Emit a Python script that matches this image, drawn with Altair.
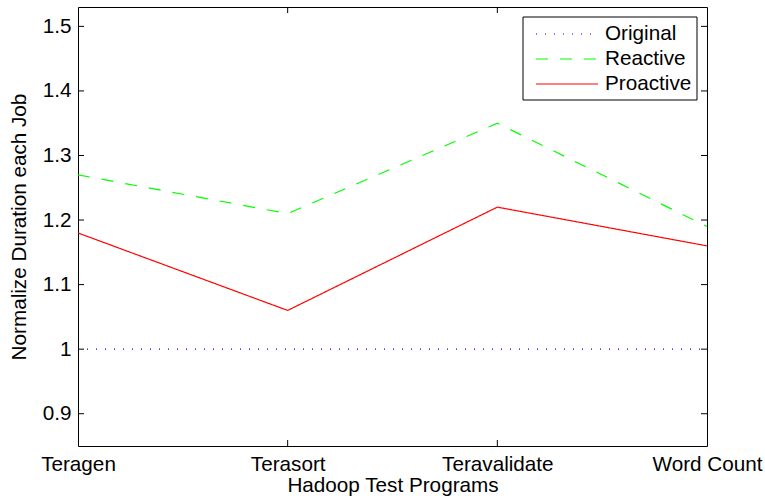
import altair as alt
import pandas as pd

# Hadoop test programs and normalized job durations per scheduling strategy
programs = ["Teragen", "Terasort", "Teravalidate", "Word Count"]
original = [1.0, 1.0, 1.0, 1.0]
reactive = [1.27, 1.21, 1.35, 1.19]
proactive = [1.18, 1.06, 1.22, 1.16]

series_names = ["Original", "Reactive", "Proactive"]
series_colors = ["#0000ff", "#00ff00", "#ff0000"]
series_dash = [[1, 8], [12, 12], [1, 0]]

y_ticks = [0.9, 1.0, 1.1, 1.2, 1.3, 1.4, 1.5]
y_domain = [0.85, 1.53]

W, H = 629, 439
FONT = "Liberation Sans"
FS = 20.7

rows = []
for name, vals in zip(series_names, [original, reactive, proactive]):
    for i, (p, v) in enumerate(zip(programs, vals)):
        rows.append({"series": name, "idx": i, "program": p, "value": v})
df = pd.DataFrame(rows)

label_expr = "[" + ",".join(f"'{p}'" for p in programs) + "][datum.value]"

x_enc = alt.X(
    "idx:Q",
    scale=alt.Scale(domain=[0, len(programs) - 1], nice=False, zero=False),
    axis=alt.Axis(
        values=list(range(len(programs))),
        labelExpr=label_expr,
        labelFlush=False,
        labelOverlap=False,
        title="Hadoop Test Programs",
        tickSize=0,
        domain=False,
        grid=False,
        labelPadding=8,
        titlePadding=2,
    ),
)
y_enc = alt.Y(
    "value:Q",
    scale=alt.Scale(domain=y_domain, nice=False, zero=False),
    axis=alt.Axis(
        values=y_ticks,
        labelExpr="datum.value == 1 ? '1' : format(datum.value, '.1f')",
        labelFlush=False,
        title="Normalize Duration each Job",
        tickSize=0,
        domain=False,
        grid=False,
        labelPadding=7,
        titlePadding=13,
    ),
)

lines = alt.Chart(df).mark_line(strokeWidth=1.2, clip=True).encode(
    x=x_enc,
    y=y_enc,
    color=alt.Color("series:N", scale=alt.Scale(domain=series_names, range=series_colors), legend=None),
    strokeDash=alt.StrokeDash("series:N", scale=alt.Scale(domain=series_names, range=series_dash), legend=None),
    detail="series:N",
)

# inward tick marks on all four sides of the box
yt = pd.DataFrame({"value": y_ticks})
left_ticks = alt.Chart(yt).mark_rule(color="black", strokeWidth=1).encode(
    y="value:Q", x=alt.value(0), x2=alt.value(6)
)
right_ticks = alt.Chart(yt).mark_rule(color="black", strokeWidth=1).encode(
    y="value:Q", x=alt.value(W - 6), x2=alt.value(W)
)
xt = pd.DataFrame({"idx": list(range(1, len(programs) - 1))})
bottom_ticks = alt.Chart(xt).mark_rule(color="black", strokeWidth=1).encode(
    x="idx:Q", y=alt.value(H - 6), y2=alt.value(H)
)
top_ticks = alt.Chart(xt).mark_rule(color="black", strokeWidth=1).encode(
    x="idx:Q", y=alt.value(0), y2=alt.value(6)
)

# legend box in the upper right corner
lx0, ly0, lx1, ly1 = 445, 10, 619, 93
legend_box = alt.Chart(pd.DataFrame({"a": [0]})).mark_rect(
    fill="white", stroke="black", strokeWidth=1
).encode(x=alt.value(lx0), x2=alt.value(lx1), y=alt.value(ly0), y2=alt.value(ly1))

legend_layers = [legend_box]
for k, (name, col, dash) in enumerate(zip(series_names, series_colors, series_dash)):
    yc = 27 + k * 25
    legend_layers.append(
        alt.Chart(pd.DataFrame({"series": [name]})).mark_rule(
            color=col, strokeDash=dash, strokeWidth=1.2
        ).encode(x=alt.value(458), x2=alt.value(520), y=alt.value(yc))
    )
    legend_layers.append(
        alt.Chart(pd.DataFrame({"series": [name]})).mark_text(
            align="left", baseline="middle", font=FONT, fontSize=FS, color="black"
        ).encode(x=alt.value(527), y=alt.value(yc), text="series:N")
    )

chart = alt.layer(
    lines, left_ticks, right_ticks, bottom_ticks, top_ticks, *legend_layers
).properties(
    width=W,
    height=H,
    autosize=alt.AutoSizeParams(type="none"),
    padding={"left": 78, "top": 7, "right": 58, "bottom": 56},
).configure_view(
    stroke="black", strokeWidth=1
).configure_axis(
    labelFont=FONT,
    titleFont=FONT,
    labelFontSize=FS,
    titleFontSize=FS,
    labelColor="black",
    titleColor="black",
    titleFontWeight="normal",
)

chart.save("out.html", embed_options={"renderer": "svg", "actions": False})
